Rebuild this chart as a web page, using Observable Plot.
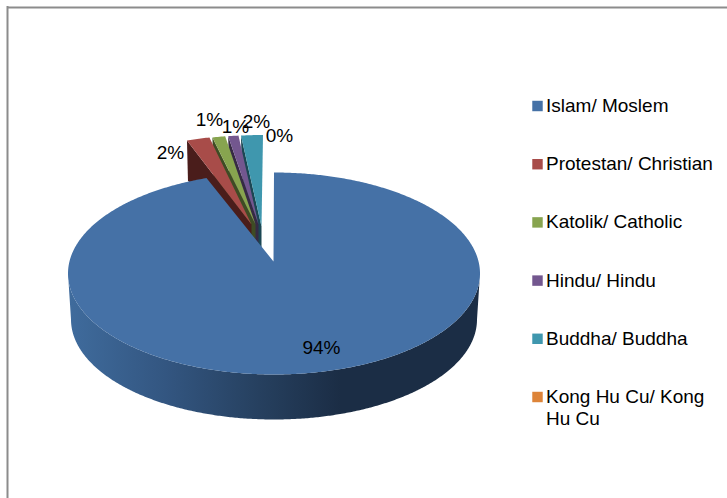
<!DOCTYPE html>
<html><head><meta charset="utf-8">
<style>html,body{margin:0;padding:0;background:#fff}svg{display:block}</style>
<script src="https://cdn.jsdelivr.net/npm/d3@7"></script>
<script src="https://cdn.jsdelivr.net/npm/@observablehq/plot@0.6"></script>
</head><body><div id="chart"></div>
<script>
// Data
const categories = ["Islam/ Moslem","Protestan/ Christian","Katolik/ Catholic","Hindu/ Hindu","Buddha/ Buddha","Kong Hu Cu/ Kong\nHu Cu"];
const values = [94.4,1.8,1.0,0.8,1.7,0];
const percentLabels = ["94%","2%","1%","1%","2%","0%"];
const colors = ["#4571A6","#A84C49","#87A44F","#73578F","#3F97AE","#DD8439"];
const wallColors = ["#2a4464","#4A1D1B","#3E4C24","#362A44","#1B4753","#6b4019"];

// Layout
const W = 727, H = 498;
const rx = 206, ry = 101, depth = 46;
const body = {cx:273.5, cy:273, apexX:273, apexY:261};
const rimCx = [274,254,257,260,262.5,262.5];
const rimCy = 235.5;
const apexXs = [273,251,255,258,261,261];
const apexYs = [261,224,224,224,226,226];
const labelPos = [[321,347],[170,152],[209,119],[235,126],[256,121],[279,135]];
const legendX = 537, legendTextX = 545.5, legendTop = 105.5, legendStep = 58.2;

const arcs = d3.pie().sort(null).value(d=>d)(values);
const rim = (cx,cy,rX,rY,t)=>[cx+rX*Math.sin(t), cy-rY*Math.cos(t)];
const step = Math.PI/360;
const angles = (a,b)=>{const r=d3.range(a,b,step); r.push(b); return r;};

// Polygons built from the pie angles
const toRows = pts=>pts.map(([x,y])=>({x,y}));
const small = [4,3,2,1].map(i=>{
  const a=arcs[i];
  const top=[[apexXs[i],apexYs[i]],...angles(a.startAngle,a.endAngle).map(t=>rim(rimCx[i],rimCy,rx,ry,t))];
  const p=rim(rimCx[i],rimCy,rx,ry,a.startAngle);
  const wall=[p,[apexXs[i],apexYs[i]],[apexXs[i],apexYs[i]+depth],[p[0]+1,p[1]+40]];
  return {i,top:toRows(top),wall:toRows(wall)};
});
const big = arcs[0];
const bigTop = toRows([[body.apexX,body.apexY],...angles(big.startAngle,big.endAngle).map(t=>rim(body.cx,body.cy,rx,ry,t))]);
const wallAngles = angles(Math.PI/2,3*Math.PI/2);
const bigWall = toRows([
  ...wallAngles.map(t=>rim(body.cx,body.cy,rx,ry,t)),
  ...wallAngles.slice().reverse().map(t=>rim(body.cx,body.cy+46,rx-3,ry-1,t))
]);

const gradient = (index,scales,vals,dim,ctx)=>{
  const ns="http://www.w3.org/2000/svg", doc=ctx.document;
  const defs=doc.createElementNS(ns,"defs"), g=doc.createElementNS(ns,"linearGradient");
  g.setAttribute("id","wallGrad"); g.setAttribute("gradientUnits","userSpaceOnUse");
  g.setAttribute("x1",70); g.setAttribute("x2",340); g.setAttribute("y1",0); g.setAttribute("y2",0);
  [["0","#3F6B9C"],["0.35","#335681"],["0.7","#26405F"],["1","#1B2D45"]].forEach(([o,c])=>{
    const s=doc.createElementNS(ns,"stop"); s.setAttribute("offset",o); s.setAttribute("stop-color",c); g.appendChild(s);
  });
  defs.appendChild(g); return defs;
};

const legendRows = categories.map((c,i)=>({c,label:c,y:legendTop+i*legendStep}));
const face = (rows,fill)=>Plot.line(rows,{x:"x",y:"y",fill,stroke:"none"});

const plot = Plot.plot({
  width:W,height:H,margin:0,
  style:{background:"#fff",fontFamily:"'Liberation Sans',Arial,sans-serif"},
  x:{domain:[0,W],range:[0,W],axis:null},
  y:{domain:[0,H],range:[0,H],axis:null},
  color:{domain:categories,range:colors},
  marks:[
    gradient,
    Plot.ruleY([7],{x1:7,x2:W,stroke:"#8c8c8c",strokeWidth:2}),
    Plot.ruleX([7],{y1:6,y2:H,stroke:"#8c8c8c",strokeWidth:2}),
    ...small.flatMap(s=>[face(s.wall,wallColors[s.i]),face(s.top,colors[s.i])]),
    face(bigWall,"url(#wallGrad)"),
    face(bigTop,colors[0]),
    Plot.text(percentLabels,{x:(d,i)=>labelPos[i][0],y:(d,i)=>labelPos[i][1],text:d=>d,fontSize:19,fill:"#000",textAnchor:"middle"}),
    Plot.dot(legendRows,{x:()=>legendX,y:"y",symbol:"square",r:5.9,fill:"c",stroke:"none"}),
    Plot.text(legendRows,{x:()=>legendTextX,y:"y",text:"label",fontSize:19,fill:"#000",textAnchor:"start",lineAnchor:"top",dy:-10,lineHeight:1.18})
  ]
});
document.getElementById("chart").appendChild(plot);
</script></body></html>
